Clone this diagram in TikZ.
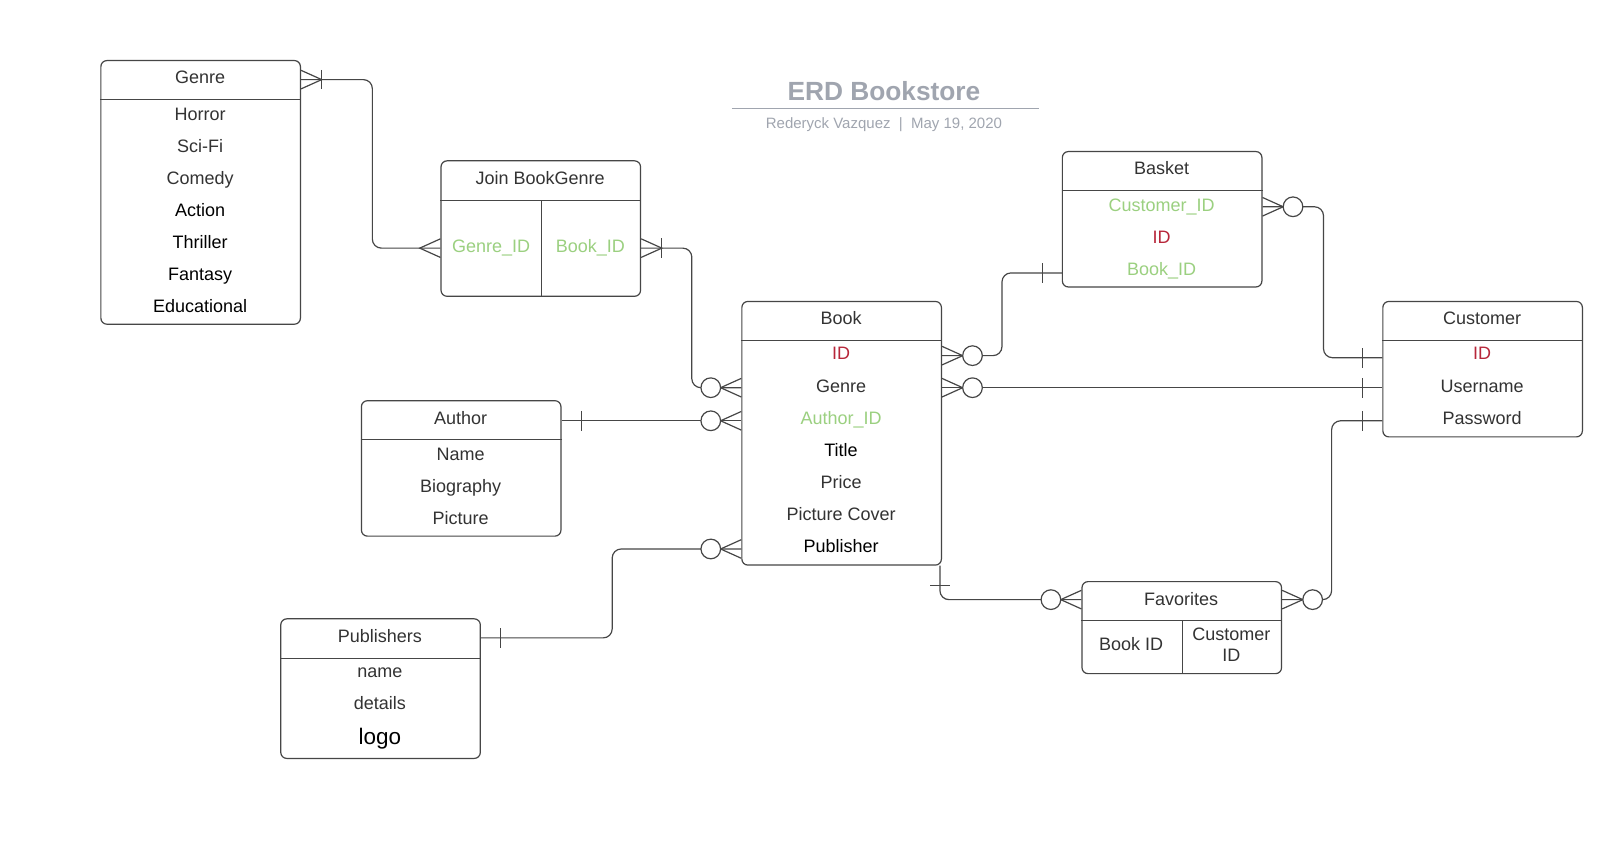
\documentclass[tikz,border=0pt]{standalone}
\usepackage{fontspec}
\setmainfont{Liberation Sans}
\usetikzlibrary{calc}
\definecolor{txt}{RGB}{51,51,51}
\definecolor{grn}{RGB}{155,208,128}
\definecolor{redk}{RGB}{183,38,58}
\definecolor{ttl}{RGB}{160,165,175}
\definecolor{lin}{RGB}{70,70,70}
\tikzset{
  entbox/.style={draw=lin, line width=1.2pt, rounded corners=6pt, fill=white, anchor=north west, inner sep=0pt},
  attr/.style={font=\fontsize{18}{21}\selectfont, text=txt, text height=12.8pt, text depth=0pt, inner sep=0pt},
  hline/.style={draw=lin, line width=1.1pt},
  conn/.style={draw=lin, line width=1.2pt, rounded corners=9pt},
  crow/.pic={\draw[lin, line width=1.2pt] (0,-9) -- (20,0) -- (0,9);},
  onebar/.pic={\draw[lin, line width=1.2pt] (19,-9.5) -- (19,9.5);},
  onemany/.pic={\draw[lin, line width=1.2pt] (0,-9) -- (20,0) -- (0,9); \draw[lin, line width=1.2pt] (20,-9.5) -- (20,9.5);},
  zeromany/.pic={\draw[lin, line width=1.2pt] (0,-9) -- (20,0) -- (0,9); \draw[lin, line width=1.2pt, fill=white] (29.5,0) circle [radius=9.5];}
}
\begin{document}
\begin{tikzpicture}[x=1.034pt,y=-1.034pt]
\useasboundingbox[fill=white] (0,0) rectangle (1566,817);

% ---------- Title ----------
\node[font=\bfseries\fontsize{26.3}{30}\selectfont, text=ttl, inner sep=0pt] (title) at (855,88) {ERD Bookstore};
\coordinate (tl1) at (708,105);
\coordinate (tl2) at (1005,105);
\draw[ttl, line width=1.6pt] (tl1) -- (tl2);
\node[font=\fontsize{15}{18}\selectfont, text=ttl, inner sep=0pt] (subtitle) at (855,121) {Rederyck Vazquez\ \ |\ \ May 19, 2020};

% ---------- Genre ----------
\node[entbox, minimum width=193*1.034pt, minimum height=255*1.034pt] (Genre) at (97,58) {};
\draw[hline] ($(Genre.north west)+(0,38.5)$) -- ($(Genre.north east)+(0,38.5)$);
\node[attr] (GenreT) at (193.5,75) {Genre};
\node[attr] (G1) at (193.5,110) {Horror};
\node[attr] (G2) at (193.5,141) {Sci-Fi};
\node[attr] (G3) at (193.5,172) {Comedy};
\node[attr, text=black] (G4) at (193.5,203) {Action};
\node[attr, text=black] (G5) at (193.5,234) {Thriller};
\node[attr, text=black] (G6) at (193.5,265) {Fantasy};
\node[attr, text=black] (G7) at (193.5,296) {Educational};

% ---------- Join BookGenre ----------
\node[entbox, minimum width=193*1.034pt, minimum height=131*1.034pt] (Join) at (426,155) {};
\draw[hline] ($(Join.north west)+(0,38.5)$) -- ($(Join.north east)+(0,38.5)$);
\draw[hline] ($(Join.north)+(0.5,38.5)$) -- ($(Join.south)+(0.5,0)$);
\node[attr] (JoinT) at (522.5,172) {Join BookGenre};
\node[attr, text=grn] (JGid) at (475,238) {Genre\_ID};
\node[attr, text=grn] (JBid) at (571,238) {Book\_ID};

% ---------- Book ----------
\node[entbox, minimum width=193*1.034pt, minimum height=255*1.034pt] (Book) at (717,291) {};
\draw[hline] ($(Book.north west)+(0,38.5)$) -- ($(Book.north east)+(0,38.5)$);
\node[attr] (BookT) at (813.5,308) {Book};
\node[attr, text=redk] (BID) at (813.5,342) {ID};
\node[attr] (BGenre) at (813.5,373) {Genre};
\node[attr, text=grn] (BAuth) at (813.5,404) {Author\_ID};
\node[attr, text=black] (BTitle) at (813.5,435) {Title};
\node[attr] (BPrice) at (813.5,466) {Price};
\node[attr] (BPic) at (813.5,497) {Picture Cover};
\node[attr, text=black] (BPub) at (813.5,528) {Publisher};

% ---------- Author ----------
\node[entbox, minimum width=193*1.034pt, minimum height=131*1.034pt] (Author) at (349,387) {};
\draw[hline] ($(Author.north west)+(0,38.5)$) -- ($(Author.north east)+(0,38.5)$);
\node[attr] (AuthorT) at (445.5,404) {Author};
\node[attr] (A1) at (445.5,439) {Name};
\node[attr] (A2) at (445.5,470) {Biography};
\node[attr] (A3) at (445.5,501) {Picture};

% ---------- Publishers ----------
\node[entbox, minimum width=193*1.034pt, minimum height=135*1.034pt] (Publ) at (271,598) {};
\draw[hline] ($(Publ.north west)+(0,38.5)$) -- ($(Publ.north east)+(0,38.5)$);
\node[attr] (PublT) at (367.5,615) {Publishers};
\node[attr] (P1) at (367.5,649) {name};
\node[attr] (P2) at (367.5,680) {details};
\node[attr, text=black, font=\fontsize{22.5}{26}\selectfont, text height=16pt] (P3) at (367.5,712) {logo};

% ---------- Basket ----------
\node[entbox, minimum width=193*1.034pt, minimum height=131*1.034pt] (Basket) at (1027,146) {};
\draw[hline] ($(Basket.north west)+(0,38.5)$) -- ($(Basket.north east)+(0,38.5)$);
\node[attr] (BasketT) at (1123.5,163) {Basket};
\node[attr, text=grn] (BkCust) at (1123.5,198) {Customer\_ID};
\node[attr, text=redk] (BkID) at (1123.5,229) {ID};
\node[attr, text=grn] (BkBook) at (1123.5,260) {Book\_ID};

% ---------- Customer ----------
\node[entbox, minimum width=193*1.034pt, minimum height=131*1.034pt] (Cust) at (1337,291) {};
\draw[hline] ($(Cust.north west)+(0,38.5)$) -- ($(Cust.north east)+(0,38.5)$);
\node[attr] (CustT) at (1433.5,308) {Customer};
\node[attr, text=redk] (CID) at (1433.5,342) {ID};
\node[attr] (CUser) at (1433.5,373) {Username};
\node[attr] (CPass) at (1433.5,404) {Password};

% ---------- Favorites ----------
\node[entbox, minimum width=193*1.034pt, minimum height=89*1.034pt] (Fav) at (1046,562) {};
\draw[hline] ($(Fav.north west)+(0,38.5)$) -- ($(Fav.north east)+(0,38.5)$);
\draw[hline] ($(Fav.north)+(0.5,38.5)$) -- ($(Fav.south)+(0.5,0)$);
\node[attr] (FavT) at (1142.5,579) {Favorites};
\node[attr] (FBook) at (1094,623) {Book ID};
\node[attr] (FCust) at (1191,613) {Customer};
\node[attr] (FCust2) at (1191,634) {ID};

% ---------- Connector end points ----------
\coordinate (e1a) at ($(Genre.east |- GenreT)+(0,2)$);
\coordinate (e1b) at ($(Join.west |- JGid)+(0,2)$);
\coordinate (e2a) at ($(Join.east |- JBid)+(0,2)$);
\coordinate (e2b) at ($(Book.west |- BGenre)+(0,2)$);
\coordinate (e3a) at ($(Author.east |- AuthorT)+(0,3)$);
\coordinate (e3b) at ($(Book.west |- BAuth)+(0,3)$);
\coordinate (e4a) at ($(Publ.east |- PublT)+(0,2)$);
\coordinate (e4b) at ($(Book.west |- BPub)+(0,3)$);
\coordinate (e5a) at ($(Book.east |- BID)+(0,2)$);
\coordinate (e5b) at ($(Basket.west |- BkBook)+(0,4)$);
\coordinate (e6a) at ($(Book.east |- BGenre)+(0,2)$);
\coordinate (e6b) at ($(Cust.west |- CUser)+(0,2)$);
\coordinate (e7a) at ($(Basket.east |- BkCust)+(0,2)$);
\coordinate (e7b) at ($(Cust.west |- CID)+(0,4)$);
\coordinate (e8a) at ($(Cust.west |- CPass)+(0,3)$);
\coordinate (e8b) at ($(Fav.east |- FavT)+(0,1)$);
\coordinate (e9a) at ($(Book.south east)+(-2,0)$);
\coordinate (e9b) at ($(Fav.west |- FavT)+(0,1)$);

% ---------- Connectors ----------
\draw[conn] (e1a) -- ++(69,0) |- (e1b);
\path (e1a) pic {onemany};
\path (e1b) pic[rotate=180] {crow};

\draw[conn] (e2a) -- ++(49,0) |- (e2b);
\path (e2a) pic {onemany};
\path (e2b) pic[rotate=180] {zeromany};

\draw[conn] (e3a) -- (e3b);
\path (e3a) pic {onebar};
\path (e3b) pic[rotate=180] {zeromany};

\draw[conn] (e4a) -- ++(127,0) |- (e4b);
\path (e4a) pic {onebar};
\path (e4b) pic[rotate=180] {zeromany};

\draw[conn] (e5a) -- ++(58,0) |- (e5b);
\path (e5a) pic {zeromany};
\path (e5b) pic[rotate=180] {onebar};

\draw[conn] (e6a) -- (e6b);
\path (e6a) pic {zeromany};
\path (e6b) pic[rotate=180] {onebar};

\draw[conn] (e7a) -- ++(59,0) |- (e7b);
\path (e7a) pic {zeromany};
\path (e7b) pic[rotate=180] {onebar};

\draw[conn] (e8a) -- ++(-49,0) |- (e8b);
\path (e8a) pic[rotate=180] {onebar};
\path (e8b) pic {zeromany};

\draw[conn] (e9a) |- (e9b);
\path (e9a) pic[rotate=-90] {onebar};
\path (e9b) pic[rotate=180] {zeromany};
\end{tikzpicture}
\end{document}
